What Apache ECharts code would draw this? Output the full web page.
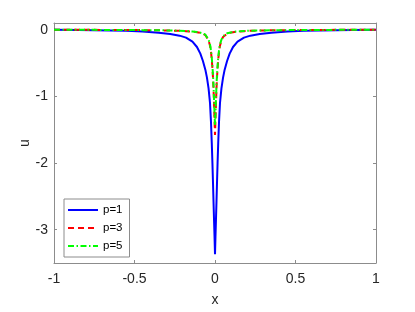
<!DOCTYPE html>
<html>
<head>
<meta charset="utf-8">
<script src="https://cdn.jsdelivr.net/npm/echarts@6/dist/echarts.min.js"></script>
<style>
html,body{margin:0;padding:0;background:#fff;}
#c{width:415px;height:312px;}
</style>
</head>
<body>
<div id="c"></div>
<script>
var xValues = [-1.0,-0.85,-0.75,-0.65,-0.55,-0.45,-0.35,-0.278,-0.22,-0.18,-0.14,-0.112,-0.091,-0.075,-0.06,-0.05,-0.04,-0.031,-0.025,-0.02,-0.016,-0.0124,-0.009,-0.006,-0.003,
  0,
  0.003,0.006,0.009,0.0124,0.016,0.02,0.025,0.031,0.04,0.05,0.06,0.075,0.091,0.112,0.14,0.18,0.22,0.278,0.35,0.45,0.55,0.65,0.75,0.85,1.0];

var uP1 = [-0.003,-0.005,-0.008,-0.011,-0.017,-0.028,-0.045,-0.065,-0.09,-0.12,-0.18,-0.26,-0.36,-0.47,-0.6,-0.72,-0.88,-1.1,-1.38,-1.7,-2.0,-2.3,-2.6,-2.85,-3.1,
  -3.37,
  -3.1,-2.85,-2.6,-2.3,-2.0,-1.7,-1.38,-1.1,-0.88,-0.72,-0.6,-0.47,-0.36,-0.26,-0.18,-0.12,-0.09,-0.065,-0.045,-0.028,-0.017,-0.011,-0.008,-0.005,-0.003];

var uP3 = [-0.002,-0.003,-0.003,-0.004,-0.005,-0.007,-0.01,-0.013,-0.017,-0.022,-0.029,-0.038,-0.048,-0.06,-0.08,-0.11,-0.16,-0.24,-0.33,-0.45,-0.58,-0.72,-0.9,-1.12,-1.35,
  -1.58,
  -1.35,-1.12,-0.9,-0.72,-0.58,-0.45,-0.33,-0.24,-0.16,-0.11,-0.08,-0.06,-0.048,-0.038,-0.029,-0.022,-0.017,-0.013,-0.01,-0.007,-0.005,-0.004,-0.003,-0.003,-0.002];

var uP5 = [-0.002,-0.003,-0.003,-0.004,-0.005,-0.007,-0.009,-0.012,-0.016,-0.02,-0.027,-0.035,-0.045,-0.055,-0.075,-0.1,-0.15,-0.22,-0.31,-0.42,-0.55,-0.68,-0.85,-1.05,-1.25,
  -1.43,
  -1.25,-1.05,-0.85,-0.68,-0.55,-0.42,-0.31,-0.22,-0.15,-0.1,-0.075,-0.055,-0.045,-0.035,-0.027,-0.02,-0.016,-0.012,-0.009,-0.007,-0.005,-0.004,-0.003,-0.003,-0.002];

var seriesNames = ['p=1', 'p=3', 'p=5'];
var xTicks = [-1, -0.5, 0, 0.5, 1];
var yTicks = [-3, -2, -1, 0];

function pairs(ys) { return xValues.map(function (x, i) { return [x, ys[i]]; }); }

var FONT = '"Liberation Sans", Arial, sans-serif';
var AXC = '#8c8c8c';
var TXT = '#262626';

var chart = echarts.init(document.getElementById('c'), null, {renderer: 'canvas'});
chart.setOption({
  animation: false,
  backgroundColor: '#fff',
  grid: {left: 54, top: 23, width: 322, height: 242, containLabel: false},
  xAxis: [{
    type: 'value', min: -1, max: 1, position: 'bottom',
    name: 'x', nameLocation: 'middle', nameGap: 30, nameMoveOverlap: false,
    nameTextStyle: {fontFamily: FONT, fontSize: 14, color: TXT},
    axisLine: {show: true, onZero: false, lineStyle: {color: AXC, width: 1}},
    axisTick: {show: true, inside: true, length: 3, customValues: xTicks, lineStyle: {color: AXC}},
    axisLabel: {customValues: xTicks, margin: 9, fontFamily: FONT, fontSize: 14, color: TXT},
    splitLine: {show: false}
  }, {
    type: 'value', min: -1, max: 1, position: 'top',
    axisLine: {show: true, onZero: false, lineStyle: {color: AXC, width: 1}},
    axisTick: {show: true, inside: true, length: 3, customValues: xTicks, lineStyle: {color: AXC}},
    axisLabel: {show: false},
    splitLine: {show: false}
  }],
  yAxis: [{
    type: 'value', min: -3.5, max: 0.1, position: 'left',
    name: 'u', nameLocation: 'middle', nameGap: 22, nameRotate: 90, nameMoveOverlap: false,
    nameTextStyle: {fontFamily: FONT, fontSize: 14, color: TXT},
    axisLine: {show: true, onZero: false, lineStyle: {color: AXC, width: 1}},
    axisTick: {show: true, inside: true, length: 3, customValues: yTicks, lineStyle: {color: AXC}},
    axisLabel: {customValues: yTicks, margin: 6, fontFamily: FONT, fontSize: 14, color: TXT},
    splitLine: {show: false}
  }, {
    type: 'value', min: -3.5, max: 0.1, position: 'right',
    axisLine: {show: true, onZero: false, lineStyle: {color: AXC, width: 1}},
    axisTick: {show: true, inside: true, length: 3, customValues: yTicks, lineStyle: {color: AXC}},
    axisLabel: {show: false},
    splitLine: {show: false}
  }],
  legend: {
    orient: 'vertical', left: 64, top: 199,
    data: seriesNames,
    itemWidth: 30, itemHeight: 12, itemGap: 6, itemTextGap: 3,
    padding: [5, 7, 5, 3],
    itemStyle: {opacity: 0},
    lineStyle: {width: 2},
    backgroundColor: '#fff', borderColor: AXC, borderWidth: 1, borderRadius: 0,
    textStyle: {fontFamily: FONT, fontSize: 11.5, color: '#000'}
  },
  series: [{
    name: seriesNames[0], type: 'line', data: pairs(uP1), xAxisIndex: 0, yAxisIndex: 0,
    showSymbol: false, symbol: 'none', smooth: false,
    lineStyle: {color: '#0000ff', width: 2, type: 'solid'}, itemStyle: {color: '#0000ff'}
  }, {
    name: seriesNames[1], type: 'line', data: pairs(uP3), xAxisIndex: 0, yAxisIndex: 0,
    showSymbol: false, symbol: 'none', smooth: false,
    lineStyle: {color: '#ff0000', width: 2, type: [6, 4]}, itemStyle: {color: '#ff0000'}
  }, {
    name: seriesNames[2], type: 'line', data: pairs(uP5), xAxisIndex: 0, yAxisIndex: 0,
    showSymbol: false, symbol: 'none', smooth: false,
    lineStyle: {color: '#00ff00', width: 2, type: [6, 2.5, 1.5, 2.5]}, itemStyle: {color: '#00ff00'}
  }]
});
</script>
</body>
</html>
